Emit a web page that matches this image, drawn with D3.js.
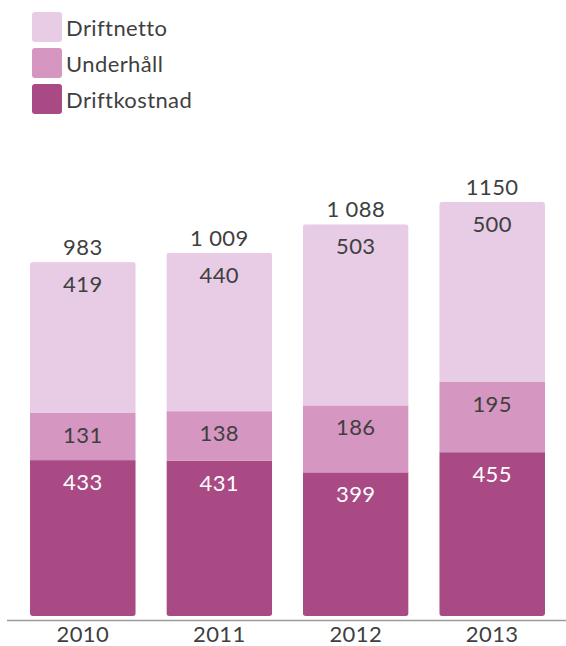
<!DOCTYPE html>
<html>
<head>
<meta charset="utf-8">
<script src="https://cdn.jsdelivr.net/npm/d3@7"></script>
<style>
  html, body { margin: 0; padding: 0; background: #fff; }
  svg { display: block; font-family: Lato, "Open Sans", sans-serif; }
</style>
</head>
<body>
<svg id="chart" width="566" height="646"></svg>
<script>
// Operating costs per year, stacked from the bottom up
const years = ["2010", "2011", "2012", "2013"];
const driftkostnad = [433, 431, 399, 455];
const underhall = [131, 138, 186, 195];
const driftnetto = [419, 440, 503, 500];
const totals = [983, 1009, 1088, 1150];
const totalLabels = ["983", "1 009", "1 088", "1150"];

const seriesNames = ["Driftkostnad", "Underhåll", "Driftnetto"];
const seriesValues = [driftkostnad, underhall, driftnetto];
const colors = ["#a94a85", "#d596c1", "#e8cbe4"];
const legendOrder = ["Driftnetto", "Underhåll", "Driftkostnad"];

const svg = d3.select("#chart");
const textColor = "#3f3f3f";
const fontSize = 22;
const spacing = 0.4;

const x = d3.scaleBand().domain(years).range([30, 545]).paddingInner(0.225).paddingOuter(0);
const y = d3.scaleLinear().domain([0, 1150]).range([616, 202]);

const rows = years.map((yr, i) => {
  const r = { year: yr };
  seriesNames.forEach((s, k) => { r[s] = seriesValues[k][i]; });
  return r;
});
const stacked = d3.stack().keys(seriesNames)(rows);

// one rounded clip per bar so only the outer corners are rounded
const defs = svg.append("defs");
years.forEach((yr, i) => {
  defs.append("clipPath").attr("id", "clip" + i)
    .append("rect")
    .attr("x", x(yr)).attr("width", x.bandwidth())
    .attr("y", y(totals[i])).attr("height", y(0) - y(totals[i]))
    .attr("rx", 3).attr("ry", 3);
});

const bars = svg.append("g");
years.forEach((yr, i) => {
  const g = bars.append("g").attr("clip-path", `url(#clip${i})`);
  stacked.forEach((layer, k) => {
    const d = layer[i];
    g.append("rect")
      .attr("x", x(yr)).attr("width", x.bandwidth())
      .attr("y", y(d[1])).attr("height", y(d[0]) - y(d[1]))
      .attr("fill", colors[k]);
  });
});

// segment values, placed just under each segment's top edge
stacked.forEach((layer, k) => {
  svg.append("g").selectAll("text").data(layer).join("text")
    .attr("x", (d, i) => x(years[i]) + x.bandwidth() / 2)
    .attr("y", d => y(d[1]) + 30)
    .attr("text-anchor", "middle")
    .attr("font-size", fontSize)
    .attr("letter-spacing", spacing)
    .attr("fill", k === 0 ? "#ffffff" : textColor)
    .text(d => d[1] - d[0]);
});

// totals above the bars
svg.append("g").selectAll("text").data(totals).join("text")
  .attr("x", (d, i) => x(years[i]) + x.bandwidth() / 2)
  .attr("y", d => y(d) - 7)
  .attr("text-anchor", "middle")
  .attr("font-size", fontSize)
  .attr("letter-spacing", spacing)
  .attr("fill", textColor)
  .text((d, i) => totalLabels[i]);

// baseline and year labels
svg.append("line")
  .attr("x1", 7).attr("x2", 566)
  .attr("y1", 620.5).attr("y2", 620.5)
  .attr("stroke", "#9a9a9a").attr("stroke-width", 1.5);

const xAxis = svg.append("g").attr("transform", "translate(0,621)")
  .call(d3.axisBottom(x).tickSize(0).tickPadding(5));
xAxis.select(".domain").remove();
xAxis.selectAll("text")
  .attr("font-size", fontSize)
  .attr("letter-spacing", spacing)
  .attr("font-family", "Lato, 'Open Sans', sans-serif")
  .attr("fill", textColor);

// legend
const legend = svg.append("g").attr("transform", "translate(32,12)");
legendOrder.forEach((name, j) => {
  const k = seriesNames.indexOf(name);
  const g = legend.append("g").attr("transform", `translate(0,${j * 36})`);
  g.append("rect").attr("width", 30).attr("height", 30)
    .attr("rx", 3).attr("fill", colors[k]);
  g.append("text").attr("x", 34).attr("y", 24)
    .attr("font-size", fontSize).attr("letter-spacing", spacing)
    .attr("fill", textColor).text(name);
});
</script>
</body>
</html>
